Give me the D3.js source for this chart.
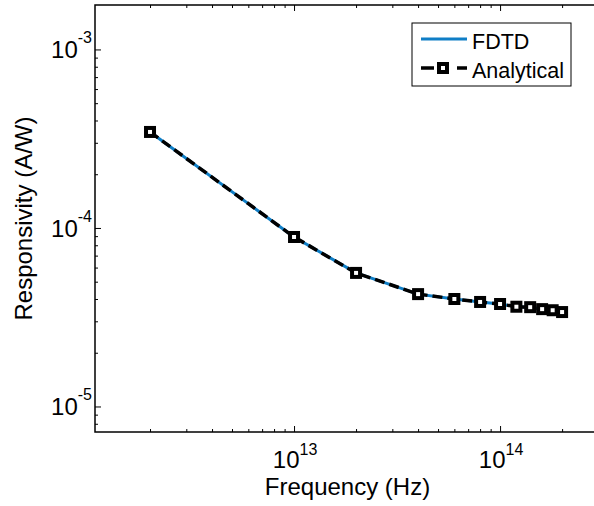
<!DOCTYPE html>
<html>
<head>
<meta charset="utf-8">
<script src="https://cdn.jsdelivr.net/npm/d3@7"></script>
<style>
  body { margin: 0; background: #fff; }
  svg { font-family: "Liberation Sans", Arial, sans-serif; }
</style>
</head>
<body>
<svg id="canvas" width="594" height="506"></svg>
<script>
let freq = [2e12, 1e13, 2e13, 4e13, 6e13, 8e13, 1e14, 1.2e14, 1.4e14, 1.6e14, 1.8e14, 2e14]
let fdtd = [3.45e-4, 8.9e-5, 5.6e-5, 4.26e-5, 4.0e-5, 3.85e-5, 3.75e-5, 3.62e-5, 3.6e-5, 3.51e-5, 3.46e-5, 3.38e-5]
let analytical = [3.45e-4, 8.9e-5, 5.6e-5, 4.26e-5, 4.0e-5, 3.85e-5, 3.75e-5, 3.62e-5, 3.6e-5, 3.51e-5, 3.46e-5, 3.38e-5]
let xTicks = [13, 14]
let yTicks = [-3, -4, -5]
let seriesNames = ['FDTD', 'Analytical']

let svg = d3.select('#canvas')
let padLeft = 95, padRight = 600, padTop = 5, padBottom = 432

let xScale = d3.scaleLog()
    .domain([Math.pow(10, 12.034), Math.pow(10, 14.485)])
    .range([padLeft, padRight])

let yScale = d3.scaleLog()
    .domain([Math.pow(10, -5.143), Math.pow(10, -2.751)])
    .range([padBottom, padTop])

let isMajor = (v) => Math.abs(Math.log10(v) - Math.round(Math.log10(v))) < 1e-6

let logVals = (scale) => {
    let d = scale.domain()
    let out = []
    for (let e = Math.floor(Math.log10(d[0])); e <= Math.ceil(Math.log10(d[1])); e++) {
        for (let m = 1; m < 10; m++) {
            let v = m * Math.pow(10, e)
            if (v >= d[0] && v <= d[1]) out.push(v)
        }
    }
    return out
}

let xMinor = logVals(xScale).filter((v) => !isMajor(v))
let xMajor = logVals(xScale).filter(isMajor)
let yMinor = logVals(yScale).filter((v) => !isMajor(v))
let yMajor = logVals(yScale).filter(isMajor)

// inward ticks on all four sides
let addAxis = (axisFn, scale, vals, size, tx, ty) => {
    svg.append('g')
        .attr('transform', 'translate(' + tx + ',' + ty + ')')
        .call(axisFn(scale).tickValues(vals).tickSizeInner(-size).tickSizeOuter(0).tickFormat(''))
        .call(g => g.select('.domain').remove())
}

addAxis(d3.axisBottom, xScale, xMajor, 6, 0, padBottom)
addAxis(d3.axisBottom, xScale, xMinor, 3, 0, padBottom)
addAxis(d3.axisTop, xScale, xMajor, 6, 0, padTop)
addAxis(d3.axisTop, xScale, xMinor, 3, 0, padTop)
addAxis(d3.axisLeft, yScale, yMajor, 6, padLeft, 0)
addAxis(d3.axisLeft, yScale, yMinor, 3, padLeft, 0)
addAxis(d3.axisRight, yScale, yMajor, 6, padRight, 0)
addAxis(d3.axisRight, yScale, yMinor, 3, padRight, 0)

svg.append('rect')
    .attr('x', padLeft).attr('y', padTop)
    .attr('width', padRight - padLeft).attr('height', padBottom - padTop)
    .attr('fill', 'none').attr('stroke', '#000').attr('stroke-width', 1.5)

// tick labels
xTicks.forEach((e) => {
    let t = svg.append('text')
        .attr('x', xScale(Math.pow(10, e)) + 1)
        .attr('y', 468)
        .attr('text-anchor', 'middle')
        .attr('font-size', 24)
    t.append('tspan').text('10')
    t.append('tspan').attr('dy', -13).attr('font-size', 16).text(e)
})

yTicks.forEach((e) => {
    let t = svg.append('text')
        .attr('x', 92)
        .attr('y', yScale(Math.pow(10, e)) + 9)
        .attr('text-anchor', 'end')
        .attr('font-size', 24)
    t.append('tspan').text('10')
    t.append('tspan').attr('dy', -15).attr('font-size', 16).text(e)
})

svg.append('text')
    .attr('x', (padLeft + padRight) / 2).attr('y', 495)
    .attr('text-anchor', 'middle')
    .attr('font-size', 24)
    .text('Frequency (Hz)')

svg.append('text')
    .attr('transform', 'translate(32,' + ((padTop + padBottom) / 2) + ') rotate(-90)')
    .attr('text-anchor', 'middle')
    .attr('font-size', 24)
    .text('Responsivity (A/W)')

// lines
let line = d3.line()
    .x((d) => xScale(d[0]))
    .y((d) => yScale(d[1]))

svg.append('path')
    .datum(freq.map((f, i) => [f, fdtd[i]]))
    .attr('d', line)
    .attr('fill', 'none')
    .attr('stroke', '#0f7ec6')
    .attr('stroke-width', 3)

let anaData = freq.map((f, i) => [f, analytical[i]])
svg.append('path')
    .datum(anaData)
    .attr('d', line)
    .attr('fill', 'none')
    .attr('stroke', '#000')
    .attr('stroke-width', 3.5)
    .attr('stroke-dasharray', '10,5')

svg.selectAll('.marker')
    .data(anaData)
    .enter()
    .append('rect')
    .attr('class', 'marker')
    .attr('x', (d) => xScale(d[0]) - 4)
    .attr('y', (d) => yScale(d[1]) - 4)
    .attr('width', 8)
    .attr('height', 8)
    .attr('fill', '#fff')
    .attr('stroke', '#000')
    .attr('stroke-width', 4)

// legend
let lg = svg.append('g')
lg.append('rect')
    .attr('x', 412).attr('y', 23)
    .attr('width', 159).attr('height', 63)
    .attr('fill', '#fff').attr('stroke', '#000').attr('stroke-width', 1)
lg.append('line')
    .attr('x1', 421).attr('x2', 467).attr('y1', 39).attr('y2', 39)
    .attr('stroke', '#0f7ec6').attr('stroke-width', 3)
lg.append('line')
    .attr('x1', 421).attr('x2', 467).attr('y1', 68).attr('y2', 68)
    .attr('stroke', '#000').attr('stroke-width', 3.5)
    .attr('stroke-dasharray', '13,23,10')
lg.append('rect')
    .attr('x', 439).attr('y', 64).attr('width', 8).attr('height', 8)
    .attr('fill', '#fff').attr('stroke', '#000').attr('stroke-width', 4)
lg.selectAll('.ltext')
    .data(seriesNames)
    .enter()
    .append('text')
    .attr('class', 'ltext')
    .attr('x', 472)
    .attr('y', (d, i) => 49 + i * 29)
    .attr('font-size', 21.5)
    .text((d) => d)
</script>
</body>
</html>
